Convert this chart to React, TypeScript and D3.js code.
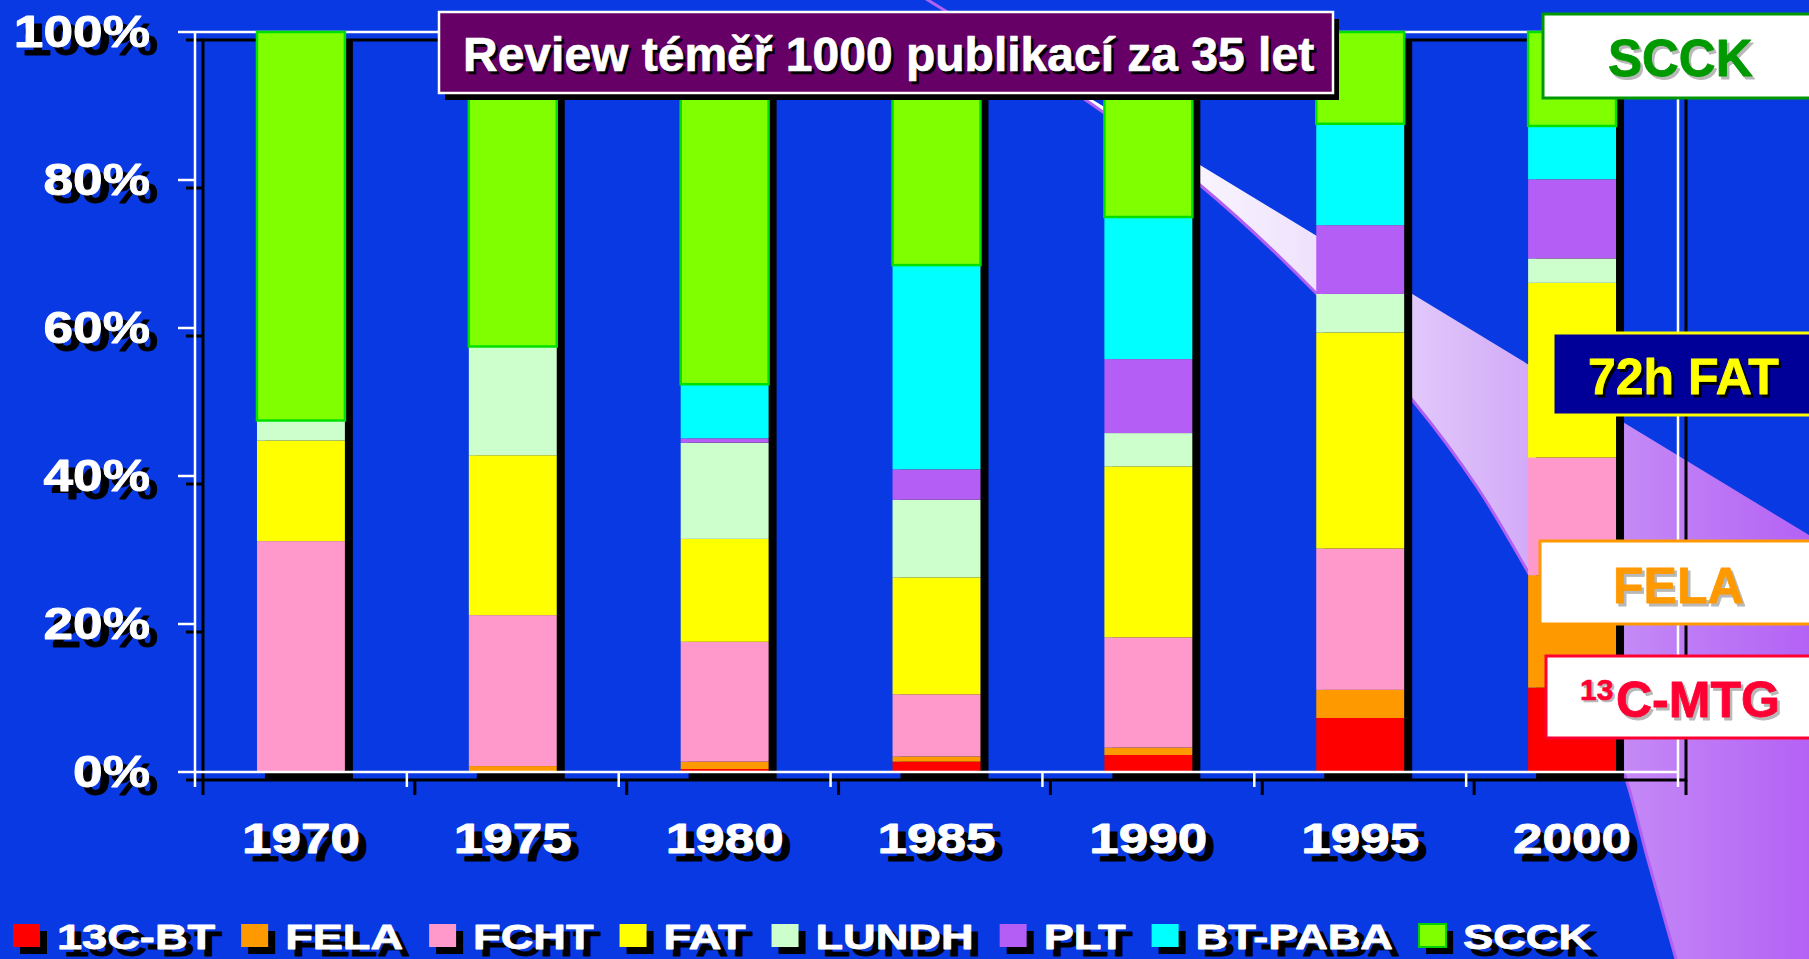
import React from 'react';
import * as d3 from 'd3';

// ---------- data ----------
const years = ['1970', '1975', '1980', '1985', '1990', '1995', '2000'];
const seriesNames = ['13C-BT', 'FELA', 'FCHT', 'FAT', 'LUNDH', 'PLT', 'BT-PABA', 'SCCK'];
const seriesColors = ['#ff0000', '#ff9900', '#ff99cc', '#ffff00', '#ccffcc', '#b45ef5', '#00ffff', '#80ff00'];
const bt13c = [0, 0, 0.4, 1.4, 2.3, 7.3, 11.4];
const fela = [0, 0.8, 1.0, 0.7, 1.0, 3.8, 15.2];
const fcht = [31.2, 20.4, 16.2, 8.4, 14.9, 19.1, 15.9];
const fat = [13.6, 21.6, 13.9, 15.8, 23.1, 29.2, 23.6];
const lundh = [2.7, 14.7, 13.0, 10.5, 4.5, 5.2, 3.3];
const plt = [0, 0, 0.6, 4.1, 10.0, 9.3, 10.7];
const btpaba = [0, 0, 7.3, 27.6, 19.2, 13.7, 7.2];
const scck = [52.5, 42.5, 47.6, 31.5, 25.0, 12.4, 12.7];
const seriesValues = [bt13c, fela, fcht, fat, lundh, plt, btpaba, scck];
const yTicks = [0, 20, 40, 60, 80, 100];
const titleText = 'Review téměř 1000 publikací za 35 let';

// ---------- decoration (zoom ribbon) ----------
const ribbonEdge: [number, number][] = [
  [895, -20], [1090, 103], [1200, 185], [1315, 292], [1414, 402], [1477, 487],
  [1528, 572], [1580, 665], [1624, 773], [1648, 860], [1676, 959], [1690, 1010],
];

const W = 1809;
const H = 959;
const BG = '#0839e2';
const FONT = '"Liberation Sans", Arial, Helvetica, sans-serif';
const SH = 8; // shadow offset

let measureCtx: CanvasRenderingContext2D | null = null;
function measure(text: string, font: string): number {
  if (!measureCtx) measureCtx = document.createElement('canvas').getContext('2d');
  if (!measureCtx) return text.length * 20;
  measureCtx.font = font;
  return measureCtx.measureText(text).width;
}

type STProps = {
  x: number; y: number; sx?: number; anchor?: string; size: number; fill: string;
  shadow?: string; sdx?: number; sdy?: number; heavy?: number; children: React.ReactNode;
};
function SText({ x, y, sx = 1, anchor = 'start', size, fill, shadow, sdx = SH, sdy = SH, heavy = 0.9, children }: STProps) {
  const common = { fontFamily: FONT, fontWeight: 700, fontSize: size, textAnchor: anchor as any, strokeWidth: heavy, strokeLinejoin: 'round' as any };
  return (
    <g>
      {shadow && (
        <text transform={`translate(${x + sdx},${y + sdy}) scale(${sx},1)`} fill={shadow} stroke={shadow} {...common}>{children}</text>
      )}
      <text transform={`translate(${x},${y}) scale(${sx},1)`} fill={fill} stroke={fill} {...common}>{children}</text>
    </g>
  );
}

export default function App() {
  const x = d3.scaleBand<string>().domain(years).range([195, 1678]).paddingInner(0).paddingOuter(0);
  const y = d3.scaleLinear().domain([0, 100]).range([772, 32]);
  const barW = x.bandwidth() * 0.415;
  const barX = (yr: string) => (x(yr) as number) + (x.bandwidth() - barW) / 2;

  const rows = years.map((yr, i) => {
    const o: any = { year: yr };
    seriesNames.forEach((s, j) => { o[s] = seriesValues[j][i]; });
    return o;
  });
  const stacked = d3.stack<any>().keys(seriesNames)(rows);

  const [x0, x1] = x.range();
  const [yb, yt] = y.range();
  const boundaries = [...years.map((yr) => x(yr) as number), x1];

  // ribbon path
  const edgeLine = d3.line<[number, number]>().curve(d3.curveCatmullRom.alpha(0.5));
  const edgePath = edgeLine(ribbonEdge) || '';
  const revPath = edgeLine([...ribbonEdge].reverse()) || '';
  const slope = 0.6076;
  const topY = (px: number) => slope * (px - 928.4);
  const ribbonPath = `M${ribbonEdge[0][0]},${topY(ribbonEdge[0][0])} L1900,${topY(1900)} L1900,1010 L1690,1010 ` + revPath.replace(/^M/, 'L') + 'Z';

  // legend flow layout
  const legFont = 36;
  const legSx = 1.255;
  const legItems: { name: string; color: string; sx: number; tx: number }[] = [];
  let cur = 13;
  seriesNames.forEach((n, i) => {
    const w = measure(n, `bold ${legFont}px "Liberation Sans"`) * legSx;
    legItems.push({ name: n, color: seriesColors[i], sx: cur, tx: cur + 44 });
    cur = cur + 44 + w + 26;
  });

  return (
    <svg width={W} height={H} viewBox={`0 0 ${W} ${H}`} style={{ position: 'absolute', left: 0, top: 0, display: 'block' }}>
      <defs>
        <linearGradient id="ribbonGrad" gradientUnits="userSpaceOnUse" x1={1100} y1={0} x2={1809} y2={0}>
          <stop offset="0" stopColor="#ffffff" />
          <stop offset="0.15" stopColor="#f8f3fe" />
          <stop offset="0.3" stopColor="#eee2fc" />
          <stop offset="0.45" stopColor="#e0c6fa" />
          <stop offset="0.6" stopColor="#d3abf8" />
          <stop offset="0.76" stopColor="#c386f6" />
          <stop offset="1" stopColor="#b462f5" />
        </linearGradient>
      </defs>
      <rect x={0} y={0} width={W} height={H} fill={BG} />

      {/* ribbon */}
      <path d={ribbonPath} fill="url(#ribbonGrad)" />
      <path d={edgePath} fill="none" stroke="#b060f2" strokeWidth={3} />

      {/* frame shadow */}
      <g stroke="#000" strokeWidth={3} fill="none">
        <rect x={x0 + SH} y={yt + SH} width={x1 - x0} height={yb - yt} />
        {yTicks.map((t) => (
          <line key={'sy' + t} x1={x0 - 17 + SH} x2={x0 + SH} y1={y(t) + SH} y2={y(t) + SH} />
        ))}
        {boundaries.map((b, i) => (
          <line key={'sx' + i} x1={b + SH} x2={b + SH} y1={yb + SH} y2={yb + 15 + SH} />
        ))}
      </g>

      {/* bar shadows */}
      {years.map((yr) => (
        <rect key={'bs' + yr} x={barX(yr) + SH} y={y(100) + SH} width={barW} height={y(0) - y(100)} fill="#000" />
      ))}

      {/* white frame */}
      <g stroke="#fff" strokeWidth={2.5} fill="none">
        <line x1={x0} x2={x1} y1={yt} y2={yt} />
        <line x1={x0} x2={x0} y1={yt} y2={yb} />
        <line x1={x1} x2={x1} y1={yt} y2={yb} />
        {yTicks.map((t) => (
          <line key={'wy' + t} x1={x0 - 17} x2={x0} y1={y(t)} y2={y(t)} />
        ))}
      </g>

      {/* bars */}
      {stacked.map((layer, j) => (
        <g key={seriesNames[j]}>
          {layer.map((d, i) => {
            const h = y(d[0]) - y(d[1]);
            if (h <= 0.01) return null;
            const isS = seriesNames[j] === 'SCCK';
            return (
              <rect
                key={years[i]}
                x={barX(years[i])}
                y={y(d[1])}
                width={barW}
                height={h}
                fill={seriesColors[j]}
                stroke={isS ? '#00e000' : 'none'}
                strokeWidth={isS ? 2.5 : 0}
              />
            );
          })}
        </g>
      ))}

      {/* x axis white line + ticks over bars */}
      <g stroke="#fff" strokeWidth={2.5}>
        <line x1={x0} x2={x1} y1={yb} y2={yb} />
        {boundaries.map((b, i) => (
          <line key={'wx' + i} x1={b} x2={b} y1={yb} y2={yb + 15} />
        ))}
      </g>

      {/* y labels */}
      {yTicks.map((t) => (
        <SText key={'yl' + t} x={150} y={y(t) + 15} sx={1.21} anchor="end" size={44} fill="#fff" shadow="#000">
          {`${t}%`}
        </SText>
      ))}

      {/* x labels */}
      {years.map((yr) => (
        <SText key={'xl' + yr} x={(x(yr) as number) + x.bandwidth() / 2} y={853} sx={1.263} anchor="middle" size={42} fill="#fff" shadow="#000">
          {yr}
        </SText>
      ))}

      {/* legend */}
      {legItems.map((it) => (
        <g key={'lg' + it.name}>
          <rect x={it.sx + 7} y={924 + 7} width={27} height={23} fill="#000" />
          <rect x={it.sx} y={924} width={27} height={23} fill={it.color}
            stroke={it.name === 'SCCK' ? '#00d000' : 'none'} strokeWidth={it.name === 'SCCK' ? 2 : 0} />
          <SText x={it.tx} y={949} sx={legSx} size={legFont} fill="#fff" shadow="#000" sdx={7} sdy={7} heavy={0.8}>
            {it.name}
          </SText>
        </g>
      ))}

      {/* title */}
      <rect x={439 + 6} y={12 + 7} width={894} height={81} fill="#000" />
      <rect x={439} y={12} width={894} height={81} fill="#660066" stroke="#fff" strokeWidth={2.5} />
      <SText x={463} y={71} size={48} fill="#fff" shadow="#000" sdx={2.5} sdy={2.5} heavy={0.7}>{titleText}</SText>

      {/* callouts */}
      <rect x={1543} y={14} width={300} height={84} fill="#fff" stroke="#009900" strokeWidth={3} />
      <SText x={1608} y={76} size={51} fill="#009900" shadow="#b8b8b8" sdx={2.5} sdy={2.5} heavy={0.8}>SCCK</SText>

      <rect x={1553} y={333} width={300} height={82} fill="#000099" stroke="#ffff00" strokeWidth={3} />
      <SText x={1588} y={394} size={50} fill="#ffff00" shadow="#000" sdx={2.5} sdy={2.5} heavy={0.8}>72h FAT</SText>

      <rect x={1540} y={541} width={300} height={83} fill="#fff" stroke="#ff9900" strokeWidth={3} />
      <SText x={1613} y={603} size={50} fill="#ff9900" shadow="#b8b8b8" sdx={2.5} sdy={2.5} heavy={0.8}>FELA</SText>

      <rect x={1546} y={656} width={300} height={82} fill="#fff" stroke="#ff0033" strokeWidth={3} />
      <SText x={1580} y={700} size={30} fill="#ff0033" shadow="#b8b8b8" sdx={2} sdy={2} heavy={0.6}>13</SText>
      <SText x={1616} y={717} size={50} fill="#ff0033" shadow="#b8b8b8" sdx={2.5} sdy={2.5} heavy={0.8}>C-MTG</SText>
    </svg>
  );
}
